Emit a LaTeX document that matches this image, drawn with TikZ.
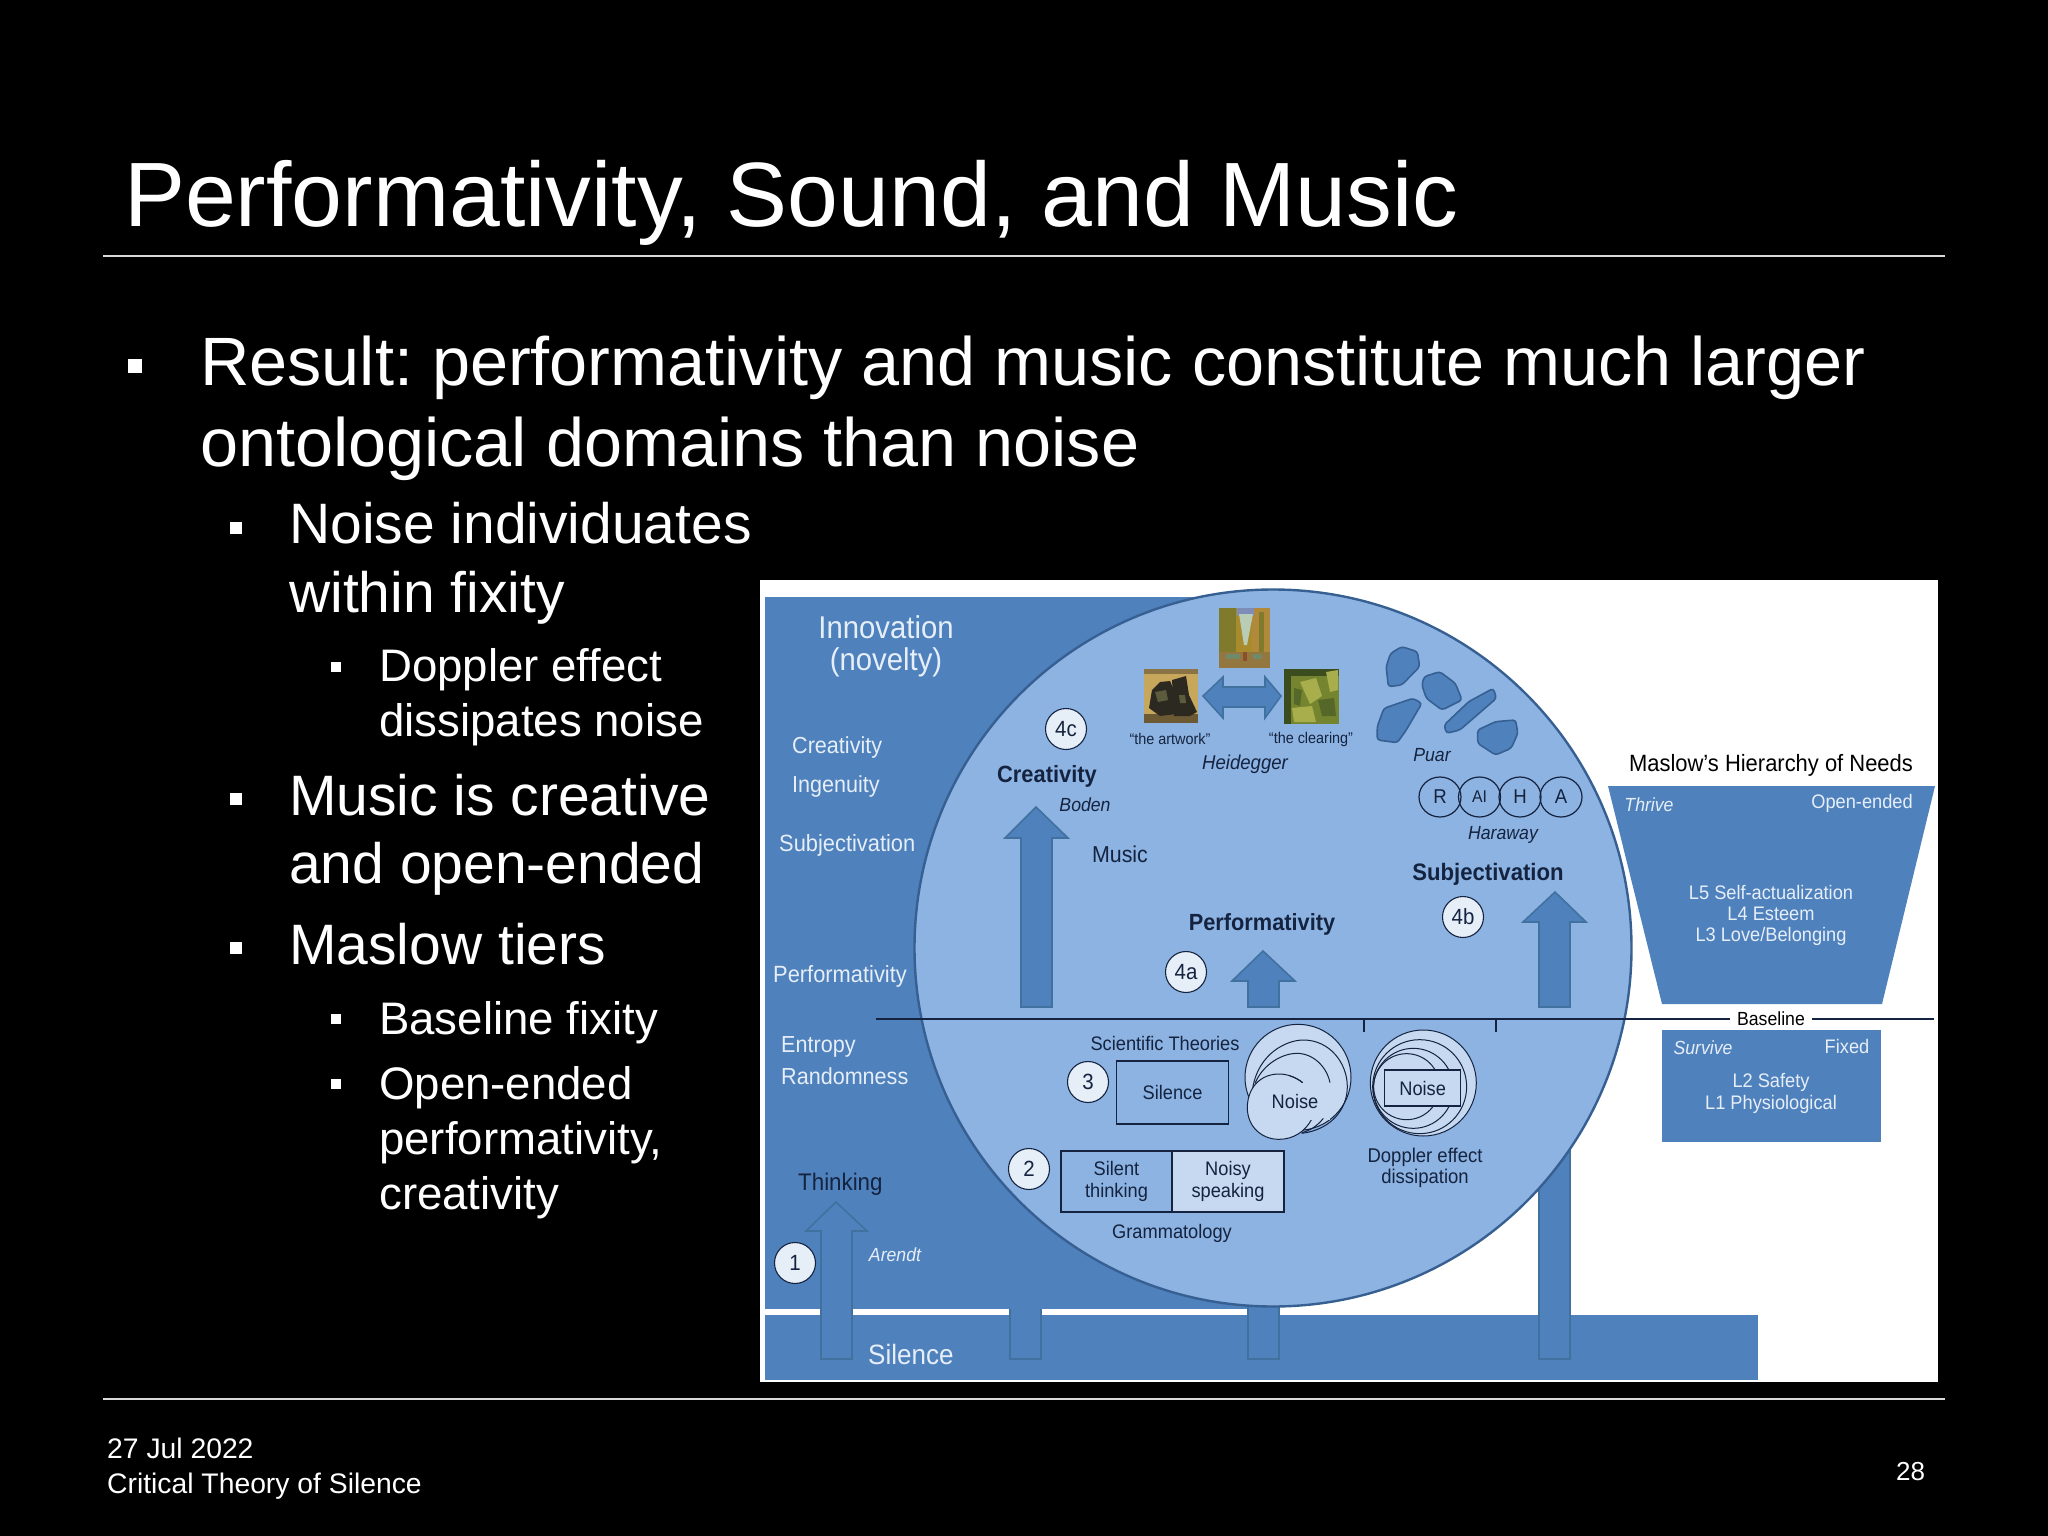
\documentclass[tikz,border=0pt]{standalone}
\usepackage{fontspec}
\setmainfont{Liberation Sans}
\newfontfamily\imgfont[FakeStretch=0.93]{Liberation Sans}
\definecolor{panelblue}{HTML}{4F81BD}
\definecolor{circblue}{HTML}{8DB3E2}
\definecolor{edgeblue}{HTML}{376092}
\definecolor{arrowedge}{HTML}{41719F}
\definecolor{paleblue}{HTML}{C6D9F0}
\definecolor{inkblue}{HTML}{14233F}
\definecolor{softwhite}{HTML}{E6EEF8}
\definecolor{tanA}{HTML}{C7A75C}
\definecolor{tanB}{HTML}{8A7446}
\definecolor{tanC}{HTML}{6B5A33}
\definecolor{bootdark}{HTML}{2C2A20}
\definecolor{bootmid}{HTML}{5C5B3E}
\definecolor{oliveA}{HTML}{7F7A2C}
\definecolor{oliveB}{HTML}{A78B2C}
\definecolor{oliveC}{HTML}{B08A3A}
\definecolor{paleV}{HTML}{B9CDB6}
\definecolor{skyV}{HTML}{7E8DB8}
\definecolor{groundA}{HTML}{93773F}
\definecolor{groundB}{HTML}{6F8A68}
\definecolor{groundC}{HTML}{8C4F2E}
\definecolor{greenA}{HTML}{75852F}
\definecolor{greenB}{HTML}{3B4C1E}
\definecolor{greenC}{HTML}{A8AE4C}
\definecolor{greenD}{HTML}{55682A}
\newcommand{\fs}[1]{\fontsize{#1}{#1}\selectfont}
\usetikzlibrary{shapes.geometric}
\tikzset{
 slidetext/.style={text=white,anchor=base west,inner sep=0pt,align=left},
 rule/.style={draw=white!85!black,line width=1.4pt},
 bullet/.style={fill=white,minimum size=#1,inner sep=0pt,anchor=center},
 imgtext/.style={font=\imgfont\fs{#1},inner sep=0pt,text=inkblue,anchor=center,align=center},
 imgital/.style={font=\imgfont\itshape\fs{#1},inner sep=0pt,text=inkblue,anchor=center},
 imgbold/.style={font=\imgfont\bfseries\fs{#1},inner sep=0pt,text=inkblue,anchor=center},
 lighttext/.style={font=\imgfont\fs{#1},inner sep=0pt,text=softwhite,anchor=center,align=center},
 lightital/.style={font=\imgfont\itshape\fs{#1},inner sep=0pt,text=softwhite,anchor=center},
 numcirc/.style={ellipse,draw=inkblue,line width=1.1pt,fill=softwhite,minimum width=41pt,minimum height=41pt,inner sep=0pt,font=\imgfont\fs{22},text=inkblue},
 rahacirc/.style={ellipse,draw=inkblue,line width=1.2pt,minimum width=42pt,minimum height=40pt,inner sep=0pt,font=\imgfont\fs{#1},text=inkblue},
 fatarrow/.style={fill=panelblue,draw=arrowedge,line width=1.6pt,line join=miter},
 blob/.style={fill=panelblue,draw=edgeblue,line width=1.6pt,rounded corners=3pt},
 boxnode/.style={draw=inkblue,line width=1.2pt,inner sep=0pt},
 ripple/.style={draw=inkblue,line width=1pt},
}
\begin{document}
\begin{tikzpicture}[x=1pt,y=-1pt]
\frenchspacing
\useasboundingbox (0,0) rectangle (2048,1536);
\fill[black] (0,0) rectangle (2048,1536);
% slide text
\node[slidetext,font=\fs{91.4}] (title) at (124,226) {Performativity, Sound, and Music};
\coordinate (ruleAL) at (103,256); \coordinate (ruleAR) at (1945,256);
\coordinate (ruleBL) at (103,1399); \coordinate (ruleBR) at (1945,1399);
\draw[rule] (ruleAL)--(ruleAR);
\draw[rule] (ruleBL)--(ruleBR);
\node[slidetext,font=\fs{68.4}] (b1) at (200,385) {Result: performativity and music constitute much larger};
\node[slidetext,font=\fs{68.4}] (b1b) at (200,466) {ontological domains than noise};
\node[slidetext,font=\fs{57}] (b2) at (289,543) {Noise individuates};
\node[slidetext,font=\fs{57}] (b2b) at (289,612) {within fixity};
\node[slidetext,font=\fs{45.6}] (b3) at (379,681) {Doppler effect};
\node[slidetext,font=\fs{45.6}] (b3b) at (379,736) {dissipates noise};
\node[slidetext,font=\fs{57}] (b4) at (289,815) {Music is creative};
\node[slidetext,font=\fs{57}] (b4b) at (289,883) {and open-ended};
\node[slidetext,font=\fs{57}] (b5) at (289,964) {Maslow tiers};
\node[slidetext,font=\fs{45.6}] (b6) at (379,1034) {Baseline fixity};
\node[slidetext,font=\fs{45.6}] (b7) at (379,1099) {Open-ended};
\node[slidetext,font=\fs{45.6}] (b7b) at (379,1154) {performativity,};
\node[slidetext,font=\fs{45.6}] (b7c) at (379,1209) {creativity};
\node[bullet=14pt] (d1) at (135,366) {};
\node[bullet=12pt] (d2) at (236,528) {};
\node[bullet=10pt] (d3) at (336,667) {};
\node[bullet=12pt] (d4) at (236,799) {};
\node[bullet=12pt] (d5) at (236,948) {};
\node[bullet=10pt] (d6) at (336,1019) {};
\node[bullet=10pt] (d7) at (336,1084) {};
\node[slidetext,font=\fs{28.3}] (date) at (107,1458) {27 Jul 2022};
\node[slidetext,font=\fs{28.3}] (foot) at (107,1493) {Critical Theory of Silence};
\node[slidetext,font=\fs{26}] (pg) at (1896,1480) {28};
% image background
\fill[white] (760,580) rectangle (1938,1382);
\fill[panelblue] (765,597) rectangle (1249,1309);
\fill[panelblue] (765,1315) rectangle (1758,1380);
% arrows behind circle
\draw[fatarrow] (821,1359)--(821,1231)--(806,1231)--(836,1202)--(867,1231)--(852,1231)--(852,1359)--cycle;
\draw[fatarrow] (1010,1309)--(1010,1359)--(1041,1359)--(1041,1309);
\draw[fatarrow] (1248,1359) rectangle (1279,1290);
\draw[fatarrow] (1539,1359) rectangle (1570,1100);
% big circle
\node[circle,draw=edgeblue,fill=circblue,line width=2.4pt,minimum size=717pt,inner sep=0pt] (big) at (1273,948) {};
% arrows inside
\draw[fatarrow] (1021,1007)--(1021,838)--(1005,838)--(1036,807)--(1068,838)--(1052,838)--(1052,1007)--cycle;
\draw[fatarrow] (1248,1007)--(1248,981)--(1232,981)--(1263,951)--(1295,981)--(1279,981)--(1279,1007)--cycle;
\draw[fatarrow] (1539,1007)--(1539,922)--(1523,922)--(1555,892)--(1586,922)--(1570,922)--(1570,1007)--cycle;
% double arrow
\draw[fatarrow] (1203,696)--(1223,677)--(1223,687)--(1265,687)--(1265,677)--(1281,696)--(1265,718)--(1265,707)--(1223,707)--(1223,718)--cycle;
% paintings
\begin{scope}
\clip (1219,608) rectangle (1270,668);
\fill[oliveB] (1219,608) rectangle (1270,668);
\fill[oliveA] (1219,608) rectangle (1236,655);
\fill[oliveC] (1252,608) rectangle (1270,655);
\fill[oliveA] (1259,612) rectangle (1264,655);
\fill[skyV] (1237,608) rectangle (1254,616);
\fill[paleV] (1239,614)--(1253,614)--(1247,645)--(1244,645)--cycle;
\fill[groundA] (1219,652) rectangle (1270,668);
\fill[groundB] (1226,654) rectangle (1240,659);
\fill[groundC] (1243,652) rectangle (1247,661);
\fill[groundB] (1253,654) rectangle (1262,659);
\end{scope}
\begin{scope}
\clip (1144,669) rectangle (1198,723);
\fill[tanA] (1144,669) rectangle (1198,723);
\fill[tanB] (1144,669) rectangle (1198,674);
\fill[tanC] (1144,714) rectangle (1198,723);
\fill[bootdark] (1149,708)--(1152,690)--(1160,682)--(1170,681)--(1176,695)--(1176,714)--(1160,716)--cycle;
\fill[bootdark] (1172,680)--(1186,676)--(1189,695)--(1197,712)--(1190,716)--(1174,716)--cycle;
\fill[bootmid] (1155,692)--(1166,690)--(1168,700)--(1158,702)--cycle;
\fill[bootmid] (1179,695)--(1185,695)--(1186,703)--(1180,703)--cycle;
\end{scope}
\begin{scope}
\clip (1284,669) rectangle (1339,724);
\fill[greenA] (1284,669) rectangle (1339,724);
\fill[greenB] (1284,669) rectangle (1339,676);
\fill[greenB] (1284,669) rectangle (1291,724);
\fill[greenC] (1300,682)--(1316,678)--(1322,696)--(1310,704)--cycle;
\fill[greenC] (1326,672)--(1338,670)--(1338,690)--(1330,692)--cycle;
\fill[greenD] (1318,700)--(1334,698)--(1336,716)--(1322,716)--cycle;
\fill[greenC] (1292,708)--(1312,706)--(1316,722)--(1294,722)--cycle;
\fill[greenD] (1294,688)--(1302,690)--(1300,706)--(1294,704)--cycle;
\end{scope}
% Maslow
\fill[panelblue] (1608,786)--(1935,786)--(1882,1004)--(1662,1004)--cycle;
\fill[panelblue] (1662,1030) rectangle (1881,1142);
% baseline
\draw[draw=inkblue,line width=1.6pt] (876,1019)--(1934,1019);
\draw[draw=inkblue,line width=1.4pt] (1364,1019)--(1364,1032);
\draw[draw=inkblue,line width=1.4pt] (1496,1019)--(1496,1032);
\node[fill=white,inner xsep=7pt,inner ysep=2pt,font=\imgfont\fs{19},text=black] (baselab) at (1771,1019) {Baseline};
% blobs
\begin{scope}[shift={(1250,570)},x=0.4464pt,y=-0.3333pt]
\draw[blob] (340,230)--(375,245)--(380,290)--(340,345)--(310,350)--(305,290)--(315,250)--cycle;
\draw[blob] (390,320)--(425,305)--(460,340)--(475,390)--(430,420)--(395,385)--(385,345)--cycle;
\draw[blob] (545,355)--(552,385)--(470,480)--(440,490)--(435,465)--(490,395)--cycle;
\draw[blob] (510,480)--(550,455)--(595,450)--(600,490)--(585,535)--(550,555)--(510,520)--cycle;
\draw[blob] (300,415)--(365,385)--(385,400)--(350,480)--(330,518)--(285,510)--(285,470)--cycle;
\end{scope}
% RAHA
\node[rahacirc=20] (rahaR) at (1440,797) {R};
\node[rahacirc=17] (rahaAI) at (1479.5,797) {AI};
\node[rahacirc=20] (rahaH) at (1520,797) {H};
\node[rahacirc=20] (rahaA) at (1561,797) {A};
% number circles
\node[numcirc] (n4c) at (1066,729) {4c};
\node[numcirc] (n4a) at (1186,972) {4a};
\node[numcirc] (n4b) at (1463,917) {4b};
\node[numcirc] (n3) at (1088,1082) {3};
\node[numcirc] (n2) at (1029,1169) {2};
\node[numcirc] (n1) at (795,1263) {1};
% boxes
\node[boxnode,minimum width=112pt,minimum height=63pt,imgtext=19.6] (sil) at (1172.5,1092.5) {Silence};
\node[boxnode,minimum width=111pt,minimum height=61pt,imgtext=19.6] (st) at (1116.5,1181.5) {Silent\\[3pt]thinking};
\node[boxnode,fill=paleblue,minimum width=112pt,minimum height=61pt,imgtext=19.6] (ns) at (1228,1181.5) {Noisy\\[3pt]speaking};
% noise ripples
\begin{scope}[shift={(1230,1020)},x=0.3333pt,y=-0.3333pt]
\draw[ripple,fill=paleblue] (204,172) circle[radius=53pt];
\fill[paleblue] (147,263) circle[radius=32pt];
\draw[ripple] (68,205) .. controls (85,100) and (170,60) .. (220,60) .. controls (300,60) and (352,130) .. (352,200) .. controls (352,270) and (300,330) .. (215,340);
\draw[ripple] (75,190) .. controls (100,130) and (160,100) .. (200,100) .. controls (250,100) and (290,140) .. (300,188);
\draw[ripple,fill=paleblue] (218,188) .. controls (195,170) and (170,162) .. (147,162) .. controls (90,162) and (52,205) .. (52,263) .. controls (52,320) and (95,358) .. (147,358) .. controls (190,358) and (225,335) .. (245,298);
\fill[paleblue] (150,190) rectangle (300,300);
\draw[ripple] (218,188) .. controls (205,178) and (195,172) .. (180,168);
\draw[ripple] (280,295) .. controls (262,318) and (240,332) .. (215,338);
\node[imgtext=19.6] (noiseA) at (195,243) {Noise};
\draw[ripple,fill=paleblue] (580,189) circle[radius=53pt];
\draw[ripple] (569,200) circle[radius=47pt];
\draw[ripple] (550,205) circle[radius=40pt];
\draw[ripple] (530,200) circle[radius=33pt];
\node[boxnode,fill=paleblue,minimum width=76pt,minimum height=36pt,imgtext=19.6] (noiseB) at (578,204) {Noise};
\end{scope}
% texts
\node[lighttext=31.5] (inn) at (886,627) {Innovation};
\node[lighttext=31.5] (nov) at (886,662) {(novelty)};
\node[lighttext=23.2,anchor=west] (t1) at (792,747) {Creativity};
\node[lighttext=23.2,anchor=west] (t2) at (792,786) {Ingenuity};
\node[lighttext=23.5,anchor=west] (t3) at (779,845) {Subjectivation};
\node[lighttext=23.5,anchor=west] (t4) at (773,976) {Performativity};
\node[lighttext=23.2,anchor=west] (t5) at (781,1047) {Entropy};
\node[lighttext=23.2,anchor=west] (t6) at (781,1076) {Randomness};
\node[imgtext=24,anchor=west] (t7) at (798,1184) {Thinking};
\node[lightital=19] (t8) at (895,1255) {Arendt};
\node[lighttext=28,anchor=west] (t9) at (868,1354) {Silence};
\node[imgbold=23.5] (t10) at (1047,776) {Creativity};
\node[imgital=19] (t11) at (1085,805) {Boden};
\node[imgtext=23] (t12) at (1120,854) {Music};
\node[imgbold=23.4] (t13) at (1262,924) {Performativity};
\node[imgbold=23.8] (t15) at (1488,874) {Subjectivation};
\node[imgital=20] (t16) at (1245,764) {Heidegger};
\node[imgtext=15.5] (t17) at (1170,739) {“the artwork”};
\node[imgtext=15.5] (t18) at (1311,739) {“the clearing”};
\node[imgital=19] (t19) at (1432,755) {Puar};
\node[imgital=19] (t20) at (1503,835) {Haraway};
\node[imgtext=19.6] (t21) at (1165,1043) {Scientific Theories};
\node[imgtext=19.6] (t22) at (1172,1233) {Grammatology};
\node[imgtext=19.9] (t23) at (1425,1157) {Doppler effect};
\node[imgtext=19.9] (t24) at (1425,1178) {dissipation};
\node[imgtext=23.6,text=black] (t25) at (1771,765) {Maslow’s Hierarchy of Needs};
\node[lightital=19] (t27) at (1649,805) {Thrive};
\node[lighttext=19.6] (t28) at (1862,803) {Open-ended};
\node[lighttext=19.6] (t29) at (1771,892) {L5 Self-actualization};
\node[lighttext=19.6] (t30) at (1771,914) {L4 Esteem};
\node[lighttext=19.6] (t31) at (1771,936) {L3 Love/Belonging};
\node[lightital=19] (t32) at (1703,1048) {Survive};
\node[lighttext=19.6] (t33) at (1847,1046) {Fixed};
\node[lighttext=19.6] (t34) at (1771,1082) {L2 Safety};
\node[lighttext=19.6] (t35) at (1771,1104) {L1 Physiological};
\end{tikzpicture}
\end{document}
